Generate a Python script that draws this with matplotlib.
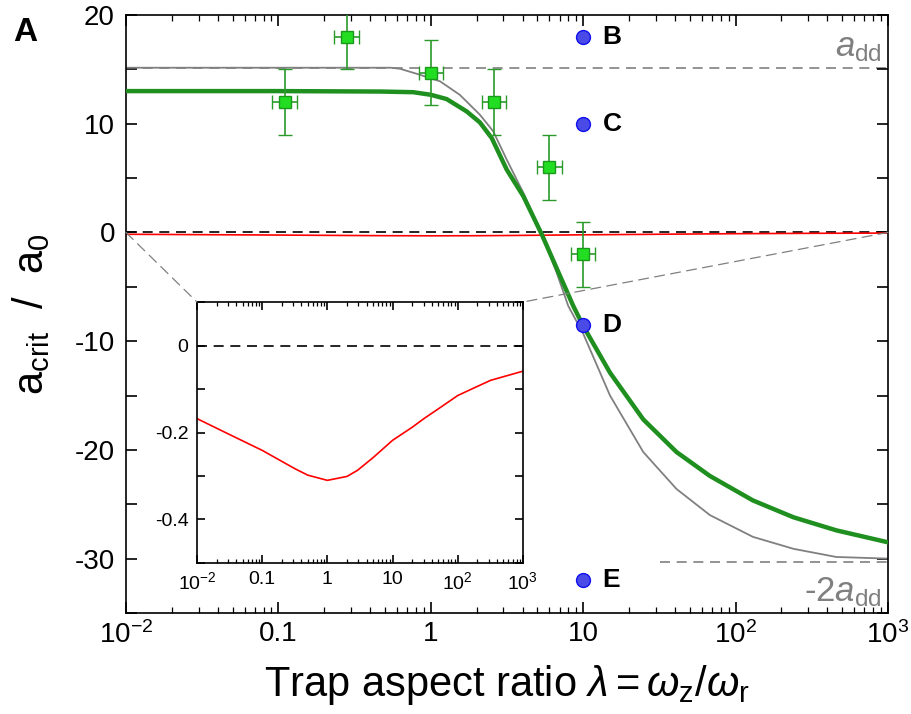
import numpy as np
import matplotlib as mpl
mpl.use("Agg")
import matplotlib.pyplot as plt
from matplotlib.ticker import FixedLocator, FixedFormatter, LogLocator, MultipleLocator, NullFormatter
from matplotlib.patches import ConnectionPatch

# ---- data ----
exp_lam = [0.11, 0.28, 1.0, 2.6, 6.0, 10.0]
exp_acrit = [12.0, 18.0, 14.7, 12.0, 6.0, -2.0]
exp_yerr = [3.0, 3.0, 3.0, 3.0, 3.0, 3.0]

green_lam = [0.01, 0.1, 0.464, 0.767, 1.0, 1.27, 1.72, 2.10, 2.51, 3.15, 4.05, 5.35,
             7.05, 8.61, 10, 15, 24.8, 41, 67.9, 130, 240, 458, 1000]
green_acrit = [13.0, 13.0, 12.96, 12.9, 12.66, 12.27, 11.13, 10.12, 8.69, 5.78, 3.33, -0.18,
               -4.0, -6.76, -8.6, -12.9, -17.2, -20.2, -22.4, -24.65, -26.2, -27.4, -28.5]

gray_lam = [0.01, 0.55, 0.63, 0.85, 1.15, 1.55, 2.10, 2.57, 3.15, 4.05, 5.2, 6.7,
            7.98, 10, 15, 24.8, 41, 67.9, 130, 240, 458, 1000]
gray_acrit = [15.15, 15.15, 15.05, 14.5, 13.9, 12.66, 10.83, 9.3, 6.7, 3.64, 0.28, -3.7,
              -6.76, -9.3, -15.0, -20.2, -23.6, -26.0, -28.0, -29.1, -29.85, -30.0]

red_lam = [0.01, 0.03, 0.1, 0.316, 0.5, 1.0, 2.0, 2.9, 5.1, 10, 20, 31, 50, 100, 200, 320, 1000]
red_acrit = [-0.168, -0.203, -0.241, -0.283, -0.298, -0.31, -0.301, -0.287, -0.257, -0.218,
             -0.188, -0.167, -0.146, -0.115, -0.094, -0.080, -0.059]

sim_lam = [10, 10, 10, 10]
sim_acrit = [18.0, 10.0, -8.5, -32.0]
sim_labels = ["B", "C", "D", "E"]

a_dd = 15.15

x_ticks = [1e-2, 1e-1, 1, 10, 1e2, 1e3]
x_ticklabels = [r"$10^{-2}$", "0.1", "1", "10", r"$10^{2}$", r"$10^{3}$"]
y_ticks = [20, 10, 0, -10, -20, -30]
inset_yticks = [0, -0.2, -0.4]
inset_yticklabels = ["0", "-0.2", "-0.4"]


def set_rc_params():
    params = {
        "font.family": ["Liberation Sans", "DejaVu Sans"],
        "mathtext.fontset": "custom",
        "mathtext.rm": "Liberation Sans",
        "mathtext.it": "Liberation Sans:italic",
        "mathtext.default": "regular",
        "axes.unicode_minus": False,
        "axes.linewidth": 1.2,
        "xtick.direction": "in",
        "ytick.direction": "in",
        "xtick.top": True,
        "ytick.right": True,
    }
    for p in params:
        mpl.rcParams[p] = params[p]


def style_log_x(ax, size, major_len, minor_len):
    ax.set_xscale("log")
    ax.xaxis.set_major_locator(FixedLocator(x_ticks))
    ax.xaxis.set_major_formatter(FixedFormatter(x_ticklabels))
    ax.xaxis.set_minor_locator(LogLocator(base=10, subs=np.arange(2, 10), numticks=20))
    ax.xaxis.set_minor_formatter(NullFormatter())
    ax.tick_params(axis="x", which="major", length=major_len, width=1.2, labelsize=size, pad=6)
    ax.tick_params(axis="x", which="minor", length=minor_len, width=0.9)


def main():
    set_rc_params()
    fig = plt.figure(figsize=(9.11, 7.14), dpi=100)
    ax = fig.add_axes([0.1383, 0.1415, 0.8364, 0.8375])

    ax.axhline(0, color="black", lw=1.2, ls=(0, (6, 4)), zorder=1)
    ax.axhline(a_dd, color="#808080", lw=1.2, ls=(0, (6, 4)), zorder=1)
    ax.plot([32, 1000], [-2 * a_dd, -2 * a_dd], color="#808080", lw=1.2, ls=(0, (6, 4)), zorder=1)

    ax.plot(red_lam, red_acrit, color="red", lw=1.2, zorder=2)
    ax.plot(gray_lam, gray_acrit, color="#808080", lw=1.3, zorder=2)
    ax.plot(green_lam, green_acrit, color="#1f901f", lw=3.2, zorder=3)

    xerr_lo = [l - l / 10**0.08 for l in exp_lam]
    xerr_hi = [l * 10**0.08 - l for l in exp_lam]
    ax.errorbar(exp_lam, exp_acrit, yerr=exp_yerr, xerr=[xerr_lo, xerr_hi], fmt="s",
                ms=9, mfc="#22dd22", mec="#1a9a1a", mew=1.0, ecolor="#2a9a2a",
                elinewidth=1.2, capsize=5, capthick=1.2, zorder=4)

    ax.plot(sim_lam, sim_acrit, "o", ms=10, mfc="#4a4ae6", mec="#1010ee", mew=1.0, zorder=5)
    for lam, a, lab in zip(sim_lam, sim_acrit, sim_labels):
        ax.annotate(lab, (lam, a), xytext=(14, 0), textcoords="offset points",
                    ha="left", va="center", fontsize=19, fontweight="bold")

    ax.text(0.992, 0.945, r"$\mathit{a}_{\rm dd}$", transform=ax.transAxes, ha="right",
            va="center", fontsize=25, color="#808080")
    ax.text(0.992, 0.035, r"-2$\mathit{a}_{\rm dd}$", transform=ax.transAxes, ha="right",
            va="center", fontsize=25, color="#808080")

    style_log_x(ax, 20, 8, 4)
    ax.set_xlim(1e-2, 1e3)
    ax.set_ylim(-35, 20)
    ax.yaxis.set_major_locator(FixedLocator(y_ticks))
    ax.yaxis.set_minor_locator(MultipleLocator(5))
    ax.tick_params(axis="y", which="major", length=8, width=1.2, labelsize=20, pad=8)
    ax.tick_params(axis="y", which="minor", length=8, width=1.2)

    ax.set_xlabel(r"Trap aspect ratio $\mathit{\lambda} = \mathit{\omega}_{\rm z}/\mathit{\omega}_{\rm r}$",
                  fontsize=30, labelpad=10)
    ax.set_ylabel(r"a$_{\rm crit}$  /  a$_{0}$", fontsize=30, labelpad=16)
    fig.text(0.015, 0.955, "A", fontsize=24, fontweight="bold", ha="left", va="center")

    # inset
    axins = fig.add_axes([0.2162, 0.2115, 0.3578, 0.3655])
    axins.axhline(0, color="black", lw=1.2, ls=(0, (6, 4)))
    axins.plot(red_lam, red_acrit, color="red", lw=1.2)
    style_log_x(axins, 14, 6, 3)
    axins.set_xlim(1e-2, 1e3)
    axins.set_ylim(-0.5, 0.1)
    axins.yaxis.set_major_locator(FixedLocator(inset_yticks))
    axins.yaxis.set_major_formatter(FixedFormatter(inset_yticklabels))
    axins.yaxis.set_minor_locator(MultipleLocator(0.1))
    axins.tick_params(axis="y", which="major", length=6, width=1.2, labelsize=14, pad=6)
    axins.tick_params(axis="y", which="minor", length=6, width=1.2)

    for xa, xb in [(1e-2, 0), (1e3, 1)]:
        con = ConnectionPatch(xyA=(xa, 0), coordsA=ax.transData, xyB=(xb, 1),
                              coordsB=axins.transAxes, color="#808080", lw=0.9,
                              ls=(0, (8, 5)))
        fig.add_artist(con)

    fig.savefig("out.png", dpi=100)
    plt.close(fig)


if __name__ == "__main__":
    main()
